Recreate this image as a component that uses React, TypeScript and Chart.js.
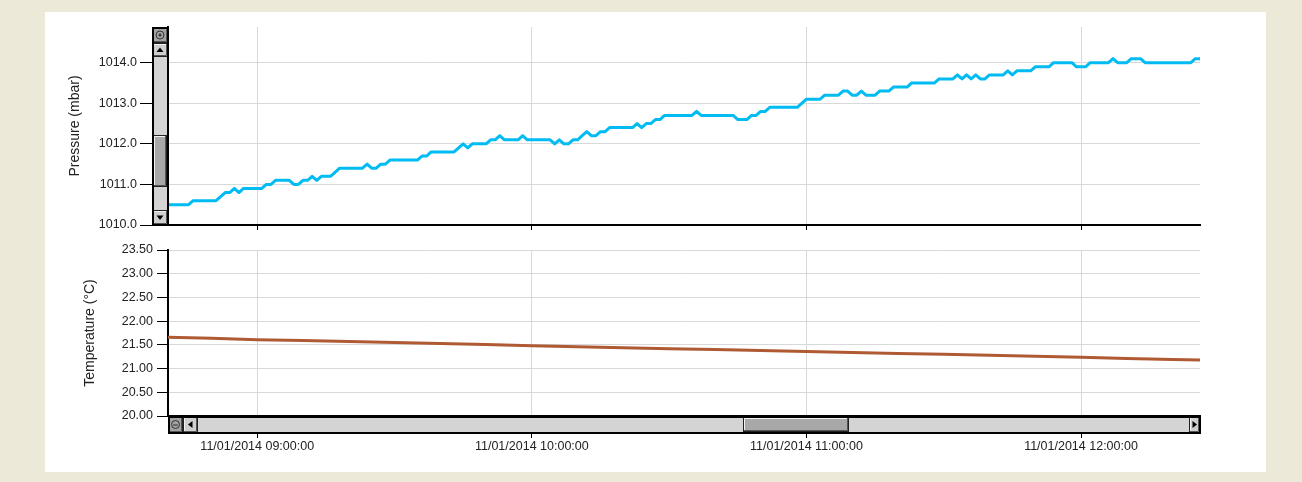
import React, { useEffect, useRef } from "react";
import { Chart, registerables } from "chart.js";

Chart.register(...registerables);

// ---------- data ----------
const dateLabel = "11/01/2014";
const startHour = 8; // x values are minutes after 08:00
const xMin = 40.5;
const xMax = 266;
const hourTicks = [60, 120, 180, 240];

const pressureTicks = [1010, 1011, 1012, 1013, 1014];
const pressureMin = 1010;
const pressureMax = 1014.88;

const temperatureTicks = [20, 20.5, 21, 21.5, 22, 22.5, 23, 23.5];
const temperatureMin = 20;
const temperatureMax = 23.5;

const pressureMinutes = [
  40, 45, 46, 51, 52, 53, 54, 55, 56, 57, 61, 62, 63, 64, 67, 68, 69, 70, 71, 72,
  73, 74, 76, 77, 78, 83, 84, 85, 86, 87, 88, 89, 95, 96, 97, 98,
  103, 105, 106, 107, 110, 111, 112, 113, 114, 117, 118, 119, 124, 125, 126, 127,
  128, 129, 130, 131, 132, 133, 134, 135, 136, 137, 142, 143, 144, 145, 146, 147,
  148, 149,
  155, 156, 157, 164, 165, 167, 168, 169, 170, 171, 172, 178, 180, 183, 184, 187,
  188, 189, 190, 191, 192, 193, 195, 196, 198, 199, 202, 203, 208, 209,
  212, 213, 214, 215, 216, 217, 218, 219, 220, 223, 224, 225, 226, 229, 230, 233,
  234, 238, 239, 241, 242, 246, 247, 248, 250, 251, 253, 254, 264, 265, 267,
];
const pressureValues = [
  1010.5, 1010.5, 1010.6, 1010.6, 1010.7, 1010.8, 1010.8, 1010.9, 1010.8, 1010.9,
  1010.9, 1011.0, 1011.0, 1011.1, 1011.1, 1011.0, 1011.0, 1011.1, 1011.1, 1011.2,
  1011.1, 1011.2, 1011.2, 1011.3, 1011.4, 1011.4, 1011.5, 1011.4, 1011.4, 1011.5,
  1011.5, 1011.6, 1011.6, 1011.7, 1011.7, 1011.8,
  1011.8, 1012.0, 1011.9, 1012.0, 1012.0, 1012.1, 1012.1, 1012.2, 1012.1, 1012.1,
  1012.2, 1012.1, 1012.1, 1012.0, 1012.1, 1012.0, 1012.0, 1012.1, 1012.1, 1012.2,
  1012.3, 1012.2, 1012.2, 1012.3, 1012.3, 1012.4, 1012.4, 1012.5, 1012.4, 1012.5,
  1012.5, 1012.6, 1012.6, 1012.7,
  1012.7, 1012.8, 1012.7, 1012.7, 1012.6, 1012.6, 1012.7, 1012.7, 1012.8, 1012.8,
  1012.9, 1012.9, 1013.1, 1013.1, 1013.2, 1013.2, 1013.3, 1013.3, 1013.2, 1013.2,
  1013.3, 1013.2, 1013.2, 1013.3, 1013.3, 1013.4, 1013.4, 1013.5, 1013.5, 1013.6,
  1013.6, 1013.7, 1013.6, 1013.7, 1013.6, 1013.7, 1013.6, 1013.6, 1013.7, 1013.7,
  1013.8, 1013.7, 1013.8, 1013.8, 1013.9, 1013.9, 1014.0, 1014.0, 1013.9, 1013.9,
  1014.0, 1014.0, 1014.1, 1014.0, 1014.0, 1014.1, 1014.1, 1014.0, 1014.0, 1014.1,
  1014.1,
];

const temperatureMinutes = [
  40, 50, 60, 70, 80, 90, 100, 110, 120, 130, 140, 150, 160, 170, 180, 190, 200,
  210, 220, 230, 240, 250, 260, 266,
];
const temperatureValues = [
  21.66, 21.64, 21.61, 21.59, 21.57, 21.55, 21.53, 21.51, 21.48, 21.46, 21.44,
  21.42, 21.4, 21.38, 21.36, 21.34, 21.32, 21.3, 21.28, 21.26, 21.24, 21.21,
  21.19, 21.18,
];

// ---------- styling ----------
const FONT = "'Liberation Sans', Arial, sans-serif";
const TEXT = "#222";
const GRID = "#d9d9d9";

function fmtTime(m: number) {
  const total = Math.round(m * 60);
  const h = startHour + Math.floor(total / 3600);
  const mi = Math.floor((total % 3600) / 60);
  const s = total % 60;
  const p = (n: number) => String(n).padStart(2, "0");
  return `${dateLabel} ${p(h)}:${p(mi)}:${p(s)}`;
}

function bevel(ctx: CanvasRenderingContext2D, x: number, y: number, w: number, h: number, fill: string) {
  ctx.fillStyle = fill;
  ctx.fillRect(x, y, w, h);
  ctx.lineWidth = 1;
  ctx.strokeStyle = "#f2f2f2";
  ctx.beginPath();
  ctx.moveTo(x + 1.5, y + h - 1);
  ctx.lineTo(x + 1.5, y + 1.5);
  ctx.lineTo(x + w - 1, y + 1.5);
  ctx.stroke();
  ctx.strokeStyle = "#555";
  ctx.beginPath();
  ctx.moveTo(x + w - 1.5, y + 1);
  ctx.lineTo(x + w - 1.5, y + h - 1.5);
  ctx.lineTo(x + 1, y + h - 1.5);
  ctx.stroke();
  ctx.strokeStyle = "#222";
  ctx.strokeRect(x + 0.5, y + 0.5, w - 1, h - 1);
}

function tri(ctx: CanvasRenderingContext2D, cx: number, cy: number, dir: string) {
  ctx.fillStyle = "#000";
  ctx.beginPath();
  if (dir === "up") {
    ctx.moveTo(cx - 3.5, cy + 2);
    ctx.lineTo(cx + 3.5, cy + 2);
    ctx.lineTo(cx, cy - 2.5);
  } else if (dir === "down") {
    ctx.moveTo(cx - 3.5, cy - 2);
    ctx.lineTo(cx + 3.5, cy - 2);
    ctx.lineTo(cx, cy + 2.5);
  } else if (dir === "left") {
    ctx.moveTo(cx + 2, cy - 3.5);
    ctx.lineTo(cx + 2, cy + 3.5);
    ctx.lineTo(cx - 2.5, cy);
  } else {
    ctx.moveTo(cx - 2, cy - 3.5);
    ctx.lineTo(cx - 2, cy + 3.5);
    ctx.lineTo(cx + 2.5, cy);
  }
  ctx.closePath();
  ctx.fill();
}

function circleIcon(ctx: CanvasRenderingContext2D, cx: number, cy: number, minus: boolean) {
  ctx.strokeStyle = "#333";
  ctx.lineWidth = 1;
  ctx.beginPath();
  ctx.arc(cx, cy, 4, 0, Math.PI * 2);
  ctx.stroke();
  if (minus) {
    ctx.beginPath();
    ctx.moveTo(cx - 2.5, cy + 0.5);
    ctx.lineTo(cx + 2.5, cy + 0.5);
    ctx.stroke();
  } else {
    ctx.fillStyle = "#333";
    ctx.beginPath();
    ctx.arc(cx, cy, 1.5, 0, Math.PI * 2);
    ctx.fill();
  }
}

const verticalScrollbar = {
  id: "vscroll",
  afterDraw(chart: any) {
    const { ctx, chartArea } = chart;
    const { left, top, bottom } = chartArea;
    const x = left - 16;
    const w = 16;
    ctx.save();
    ctx.fillStyle = "#d4d4d4";
    ctx.fillRect(x, top, w, bottom - top);
    bevel(ctx, x, top, w, 16, "#a2a2a2");
    circleIcon(ctx, x + w / 2, top + 8, false);
    bevel(ctx, x, top + 16, w, 14, "#cfcfcf");
    tri(ctx, x + w / 2, top + 23, "up");
    bevel(ctx, x, bottom - 15, w, 15, "#cfcfcf");
    tri(ctx, x + w / 2, bottom - 7.5, "down");
    bevel(ctx, x + 1, top + 108, w - 2, 52, "#a8a8a8");
    ctx.strokeStyle = "#000";
    ctx.lineWidth = 2;
    ctx.strokeRect(x + 1, top + 1, w - 1, bottom - top - 1);
    ctx.restore();
  },
};

const horizontalScrollbar = {
  id: "hscroll",
  afterDraw(chart: any) {
    const { ctx, chartArea } = chart;
    const { left, right, bottom } = chartArea;
    const y = bottom;
    const h = 17;
    ctx.save();
    ctx.fillStyle = "#d4d4d4";
    ctx.fillRect(left, y, right - left, h);
    bevel(ctx, left, y, 15, h, "#a2a2a2");
    circleIcon(ctx, left + 7.5, y + 8.5, true);
    bevel(ctx, left + 15, y, 15, h, "#cfcfcf");
    tri(ctx, left + 22.5, y + 8.5, "left");
    bevel(ctx, right - 11, y, 11, h, "#cfcfcf");
    tri(ctx, right - 5.5, y + 8.5, "right");
    bevel(ctx, left + 575, y + 1, 106, h - 2, "#a8a8a8");
    ctx.strokeStyle = "#000";
    ctx.lineWidth = 2;
    ctx.strokeRect(left + 1, y + 1, right - left - 1, h - 1);
    ctx.restore();
  },
};

function zeroPadding(s: any) {
  s.paddingLeft = 0;
  s.paddingRight = 0;
  s.paddingTop = 0;
  s.paddingBottom = 0;
}

function xScale(showLabels: boolean, tickLength: number, height: number) {
  return {
    type: "linear",
    min: xMin,
    max: xMax,
    afterBuildTicks: (s: any) => {
      s.ticks = hourTicks.map((v) => ({ value: v }));
    },
    afterFit: (s: any) => {
      s.height = height;
      zeroPadding(s);
    },
    grid: { color: GRID, lineWidth: 1, tickColor: "#000", tickWidth: 1, tickLength },
    border: { color: "#000", width: 2 },
    ticks: {
      display: showLabels,
      autoSkip: false,
      maxRotation: 0,
      padding: 1,
      color: TEXT,
      font: { family: FONT, size: 12.5 },
      callback: (v: any) => fmtTime(Number(v)),
    },
  };
}

function yScale(
  min: number,
  max: number,
  ticks: number[],
  decimals: number,
  tickLength: number,
  pad: number,
  title: string,
  titlePad: number
) {
  return {
    type: "linear",
    min,
    max,
    afterBuildTicks: (s: any) => {
      s.ticks = ticks.map((v) => ({ value: v }));
    },
    afterFit: (s: any) => {
      s.width = 123;
      zeroPadding(s);
    },
    grid: { color: GRID, lineWidth: 1, tickColor: "#000", tickWidth: 1, tickLength },
    border: { color: "#000", width: 2 },
    ticks: {
      padding: pad,
      color: TEXT,
      font: { family: FONT, size: 12.5 },
      callback: (v: any) => Number(v).toFixed(decimals),
    },
    title: {
      display: true,
      text: title,
      color: TEXT,
      font: { family: FONT, size: 14 },
      padding: { top: titlePad, bottom: 0 },
    },
  };
}

export default function App() {
  const topRef = useRef<HTMLCanvasElement>(null);
  const botRef = useRef<HTMLCanvasElement>(null);

  useEffect(() => {
    const common = {
      responsive: false,
      animation: false,
      events: [],
      plugins: { legend: { display: false }, tooltip: { enabled: false } },
    };

    const c1 = new Chart(topRef.current as HTMLCanvasElement, {
      type: "line",
      data: {
        datasets: [
          {
            data: pressureMinutes.map((m, i) => ({ x: m, y: pressureValues[i] })),
            borderColor: "#00bcf2",
            borderWidth: 3,
            borderJoinStyle: "round",
            pointRadius: 0,
            tension: 0,
            fill: false,
          },
        ],
      },
      options: {
        ...common,
        layout: { autoPadding: false, padding: { left: 0, right: 66, top: 15, bottom: 0 } },
        scales: {
          x: xScale(false, 5, 7),
          y: yScale(pressureMin, pressureMax, pressureTicks, 1, 28, 3, "Pressure (mbar)", 21.6),
        },
      },
      plugins: [verticalScrollbar],
    } as any);

    const c2 = new Chart(botRef.current as HTMLCanvasElement, {
      type: "line",
      data: {
        datasets: [
          {
            data: temperatureMinutes.map((m, i) => ({ x: m, y: temperatureValues[i] })),
            borderColor: "#b05a33",
            borderWidth: 3,
            borderJoinStyle: "round",
            pointRadius: 0,
            tension: 0,
            fill: false,
          },
        ],
      },
      options: {
        ...common,
        layout: { autoPadding: false, padding: { left: 0, right: 66, top: 18, bottom: 0 } },
        scales: {
          x: xScale(true, 22, 56),
          y: yScale(temperatureMin, temperatureMax, temperatureTicks, 2, 11, 4, "Temperature (°C)", 36.6),
        },
      },
      plugins: [horizontalScrollbar],
    } as any);

    return () => {
      c1.destroy();
      c2.destroy();
    };
  }, []);

  return (
    <div
      style={{
        position: "fixed",
        left: 0,
        top: 0,
        width: 1302,
        height: 482,
        background: "#ece9d8",
        overflow: "hidden",
      }}
    >
      <div
        style={{
          position: "absolute",
          left: 45,
          top: 12,
          width: 1221,
          height: 460,
          background: "#ffffff",
        }}
      >
        <canvas
          ref={topRef}
          width={1221}
          height={220}
          style={{ position: "absolute", left: 0, top: 0, width: 1221, height: 220 }}
        />
        <canvas
          ref={botRef}
          width={1221}
          height={240}
          style={{ position: "absolute", left: 0, top: 220, width: 1221, height: 240 }}
        />
      </div>
    </div>
  );
}
